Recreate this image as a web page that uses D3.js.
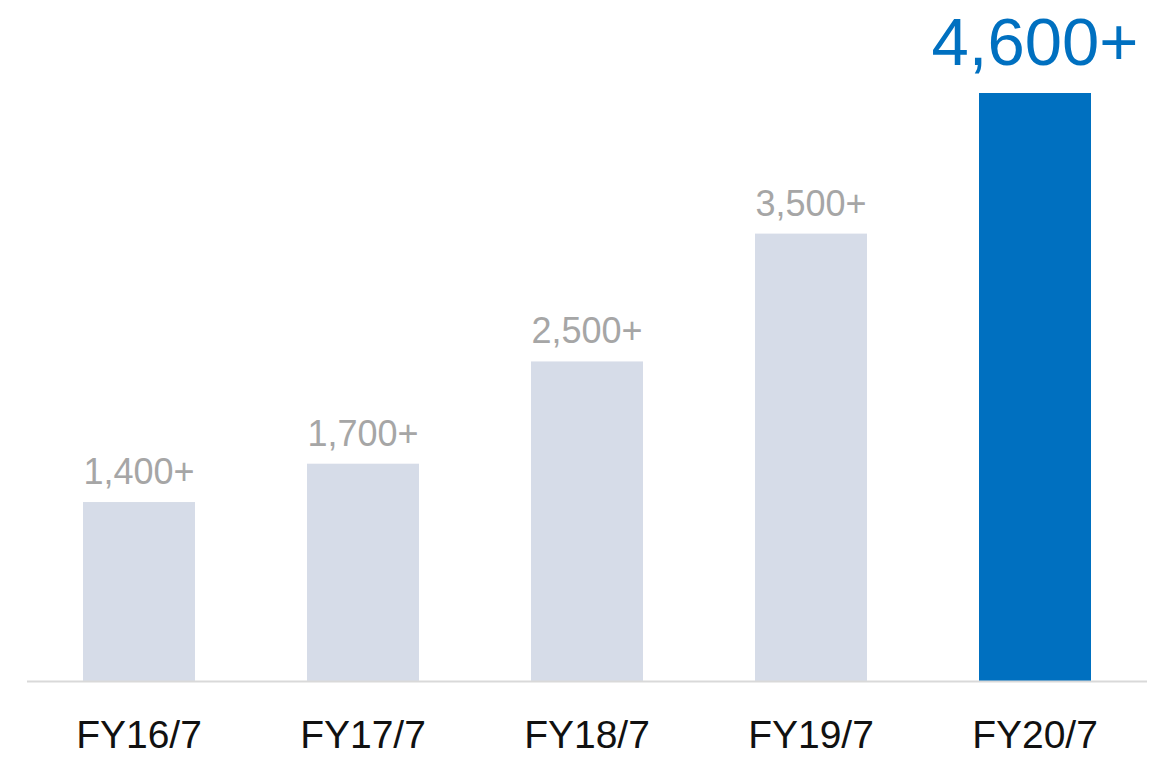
<!DOCTYPE html>
<html>
<head>
<meta charset="utf-8">
<script src="https://cdn.jsdelivr.net/npm/d3@7"></script>
<style>
  html, body { margin: 0; padding: 0; background: #ffffff; }
  svg { display: block; }
</style>
</head>
<body>
<div id="chart"></div>
<script>
// データ
const categories = ["FY16/7", "FY17/7", "FY18/7", "FY19/7", "FY20/7"];
const values = [1400, 1700, 2500, 3500, 4600];
const valueLabels = ["1,400+", "1,700+", "2,500+", "3,500+", "4,600+"];
const highlightIndex = 4;

const width = 1162;
const height = 757;
const baseY = 681;
const font = "'Liberation Sans', Arial, sans-serif";

const svg = d3.select("#chart").append("svg")
  .attr("width", width)
  .attr("height", height);

// スケール
const x = d3.scaleBand()
  .domain(categories)
  .range([27, 1147])
  .paddingInner(0.5)
  .paddingOuter(0.25);

const y = d3.scaleLinear()
  .domain([0, 4600])
  .range([baseY, 93]);

// 棒
svg.selectAll(".bar")
  .data(values)
  .enter().append("rect")
  .attr("class", "bar")
  .attr("x", (d, i) => x(categories[i]))
  .attr("y", d => y(d))
  .attr("width", x.bandwidth())
  .attr("height", d => baseY - y(d))
  .attr("fill", (d, i) => i === highlightIndex ? "#0070c0" : "#d6dce8");

// 軸線
svg.append("line")
  .attr("x1", 27).attr("x2", 1147)
  .attr("y1", baseY + 0.5).attr("y2", baseY + 0.5)
  .attr("stroke", "#d9d9d9")
  .attr("stroke-width", 2);

// 値ラベル
svg.selectAll(".val")
  .data(values)
  .enter().append("text")
  .attr("class", "val")
  .attr("x", (d, i) => x(categories[i]) + x.bandwidth() / 2)
  .attr("y", (d, i) => y(d) - (i === highlightIndex ? 28 : 18))
  .attr("text-anchor", "middle")
  .style("font-family", font)
  .style("font-size", (d, i) => i === highlightIndex ? "67px" : "36px")
  .style("fill", (d, i) => i === highlightIndex ? "#0070c0" : "#a6a6a6")
  .text((d, i) => valueLabels[i]);

// カテゴリラベル
svg.selectAll(".cat")
  .data(categories)
  .enter().append("text")
  .attr("class", "cat")
  .attr("x", d => x(d) + x.bandwidth() / 2)
  .attr("y", 748)
  .attr("text-anchor", "middle")
  .style("font-family", font)
  .style("font-size", "39px")
  .style("fill", "#111111")
  .text(d => d);
</script>
</body>
</html>
